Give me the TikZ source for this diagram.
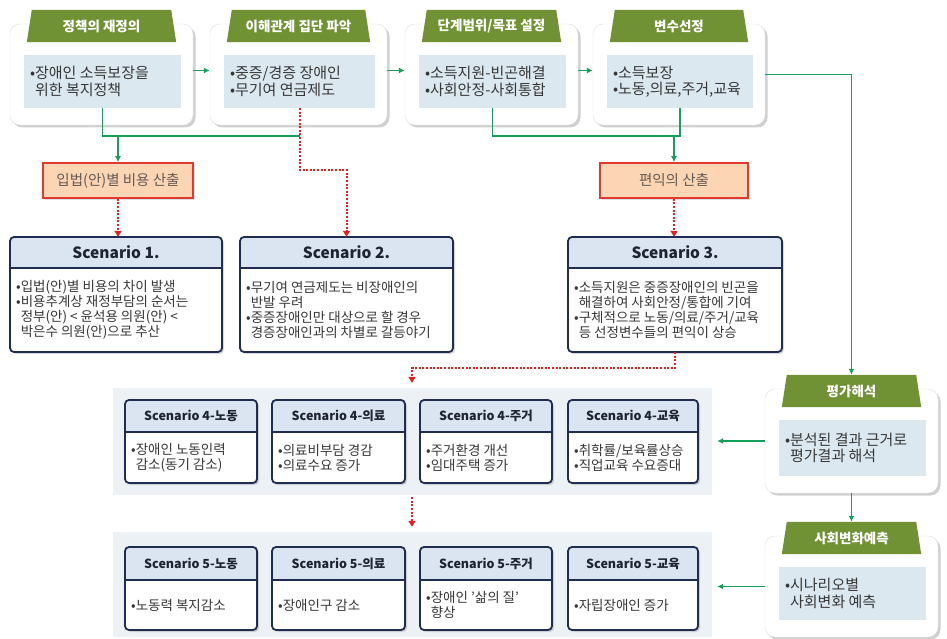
\documentclass[tikz,border=0pt]{standalone}
\usepackage{fontspec}
\setmainfont{Noto Sans CJK KR}
\usetikzlibrary{shadows,fit,calc,arrows.meta}
\definecolor{hdrgreen}{RGB}{112,146,52}
\definecolor{innerblue}{RGB}{219,232,240}
\definecolor{bodygray}{RGB}{55,55,55}
\definecolor{redfill}{RGB}{252,213,180}
\definecolor{redline}{RGB}{222,60,50}
\definecolor{redtext}{RGB}{100,90,85}
\definecolor{navy}{RGB}{31,45,80}
\definecolor{schdrcol}{RGB}{219,229,241}
\definecolor{titlecol}{RGB}{30,35,50}
\definecolor{lgreen}{RGB}{20,160,90}
\definecolor{lred}{RGB}{230,30,30}
\definecolor{panelcol}{RGB}{236,241,246}
\tikzset{
 outerbox/.style={fill=white, draw=black!12, rounded corners=10pt, inner sep=0pt,
   drop shadow={shadow xshift=2.5pt, shadow yshift=-2.5pt, opacity=0.3, fill=black!60}},
 innerbox/.style={fill=innerblue, inner sep=0pt},
 hdrtext/.style={text=white, inner sep=0pt, font=\bfseries\fontsize{13.5}{15}\selectfont},
 pbody/.style={align=left, text=bodygray, inner sep=0pt, font=\fontsize{15}{16.5}\selectfont},
 redbox/.style={fill=redfill, draw=redline, line width=1.6pt, minimum height=35pt, inner sep=0pt,
   text=redtext, font=\fontsize{14.5}{16}\selectfont,
   drop shadow={shadow xshift=2pt, shadow yshift=-2pt, opacity=0.25}},
 scshape/.style={fill=white, inner sep=0pt, rounded corners=4pt,
   drop shadow={shadow xshift=2pt, shadow yshift=-2pt, opacity=0.3}},
 scline/.style={draw=navy, line width=1.8pt},
 sctitle/.style={text=titlecol, font=\bfseries, inner sep=0pt},
 scbody/.style={align=left, text=bodygray, inner sep=0pt, font=\fontsize{13.5}{15}\selectfont},
 gline/.style={draw=lgreen, line width=1.8pt},
 garrow/.style={gline, -{Latex[length=6pt,width=6pt]}},
 rline/.style={draw=lred, line width=2pt, dash pattern=on 2pt off 1.6pt},
 rarrow/.style={rline, -{Triangle[length=6pt,width=7pt]}},
 panel/.style={fill=panelcol, inner sep=0pt},
}
% #1 name, #2 x1, #3 x2, #4 header top y, #5 outer bottom y, #6 title, #7 body
\newcommand\PanelBox[7]{%
 \pgfmathsetmacro\pbA{#2+14}\pgfmathsetmacro\pbB{#3-12}%
 \pgfmathsetmacro\pbC{#4+14}\pgfmathsetmacro\pbD{#4+45}%
 \pgfmathsetmacro\pbE{#5-17}\pgfmathsetmacro\pbF{#4+32}%
 \pgfmathsetmacro\pbG{#2+17}\pgfmathsetmacro\pbH{#3-17}%
 \node[fit={(#2,\pbC) (#3,#5)}, outerbox] (#1) {};
 \node[fit={(\pbA,\pbD) (\pbB,\pbE)}, innerbox] (#1i) {};
 \node[fit={(\pbG,#4) (\pbH,\pbF)}, inner sep=0pt] (#1h) {};
 \fill[hdrgreen] (#1h.south west) -- ([xshift=5pt]#1h.north west) -- ([xshift=-5pt]#1h.north east) -- (#1h.south east) -- cycle;
 \node[hdrtext] (#1t) at (#1h.center) {#6};
 \node[pbody, anchor=west] (#1b) at ([xshift=6pt]#1i.west) {#7};
}
% #1 name, #2 x1, #3 y1, #4 x2, #5 y2, #6 header bottom y, #7 title, #8 body
\newcommand\ScBox[8]{%
 \node[fit={(#2,#3) (#4,#5)}, scshape] (#1) {};
 \begin{scope}
  \clip[rounded corners=4pt] (#2,#3) rectangle (#4,#5);
  \fill[schdrcol] (#2,#3) rectangle (#4,#6);
 \end{scope}
 \draw[scline, rounded corners=4pt] (#2,#3) rectangle (#4,#5);
 \draw[scline] (#2,#6) -- (#4,#6);
 \node[sctitle] (#1t) at ($(#2,#3)!0.5!(#4,#6)$) {#7};
 \node[scbody, anchor=west] (#1b) at ($(#2,#6)!0.5!(#2,#5)+(6,0)$) {#8};
}
\begin{document}
\begin{tikzpicture}[x=1pt,y=-1pt]
\fill[white] (0,0) rectangle (947,639);
\useasboundingbox (0,0) rectangle (947,639);

% top row
\PanelBox{b1}{10}{193}{10}{125}{정책의 재정의}{•장애인 소득보장을\\\hphantom{•}위한 복지정책}
\PanelBox{b2}{210}{387}{10}{125}{이해관계 집단 파악}{•중증/경증 장애인\\•무기여 연금제도}
\PanelBox{b3}{405}{578}{10}{125}{단계범위/목표 설정}{•소득지원-빈곤해결\\•사회안정-사회통합}
\PanelBox{b4}{593}{765}{10}{125}{변수선정}{•소득보장\\•노동,의료,주거,교육}

% right column
\PanelBox{r1}{765}{938}{375}{493}{평가해석}{•분석된 결과 근거로\\\hphantom{•}평가결과 해석}
\PanelBox{r2}{765}{938}{522}{637}{사회변화예측}{•시나리오별\\\hphantom{•}사회변화 예측}

% red boxes
\node[redbox, minimum width=150pt] (rb1) at (118,180.5) {입법(안)별 비용 산출};
\node[redbox, minimum width=148pt] (rb2) at (674,180.5) {편익의 산출};

% scenarios 1-3
\ScBox{s1}{10}{237}{222}{352}{268}{\fontsize{15.5}{18}\selectfont Scenario 1.}{•입법(안)별 비용의 차이 발생\\•비용추계상 재정부담의 순서는\\\hphantom{•}정부(안) < 윤석용 의원(안) <\\\hphantom{•}박은수 의원(안)으로 추산}
\ScBox{s2}{240}{237}{453}{352}{268}{\fontsize{15.5}{18}\selectfont Scenario 2.}{•무기여 연금제도는 비장애인의\\\hphantom{•}반발 우려\\•중증장애인만 대상으로 할 경우\\\hphantom{•}경증장애인과의 차별로 갈등야기}
\ScBox{s3}{568}{237}{782}{352}{268}{\fontsize{15.5}{18}\selectfont Scenario 3.}{•소득지원은 중증장애인의 빈곤을\\\hphantom{•}해결하여 사회안정/통합에 기여\\•구체적으로 노동/의료/주거/교육\\\hphantom{•}등 선정변수들의 편익이 상승}

% panels
\node[fit={(113,388) (712,495)}, panel] (p4) {};
\node[fit={(113,532) (712,637)}, panel] (p5) {};

% scenario 4
\ScBox{s4a}{125}{400}{257}{483}{432}{\fontsize{12.5}{15}\selectfont Scenario 4-노동}{•장애인 노동인력\\\hphantom{•}감소(동기 감소)}
\ScBox{s4b}{272}{400}{405}{483}{432}{\fontsize{12.5}{15}\selectfont Scenario 4-의료}{•의료비부담 경감\\•의료수요 증가}
\ScBox{s4c}{420}{400}{552}{483}{432}{\fontsize{12.5}{15}\selectfont Scenario 4-주거}{•주거환경 개선\\•임대주택 증가}
\ScBox{s4d}{568}{400}{698}{483}{432}{\fontsize{12.5}{15}\selectfont Scenario 4-교육}{•취학률/보육률상승\\•직업교육 수요증대}

% scenario 5
\ScBox{s5a}{125}{547}{257}{630}{580}{\fontsize{12.5}{15}\selectfont Scenario 5-노동}{•노동력 복지감소}
\ScBox{s5b}{272}{547}{405}{630}{580}{\fontsize{12.5}{15}\selectfont Scenario 5-의료}{•장애인구 감소}
\ScBox{s5c}{420}{547}{552}{630}{580}{\fontsize{12.5}{15}\selectfont Scenario 5-주거}{•장애인 '삶의 질'\\\hphantom{•}향상}
\ScBox{s5d}{568}{547}{698}{630}{580}{\fontsize{12.5}{15}\selectfont Scenario 5-교육}{•자립장애인 증가}

% connectors
\coordinate (jy) at (0,136);
\coordinate (yr2) at (0,170);
\coordinate (yr3) at (0,368);
\coordinate (xr) at (412,0);

\draw[garrow] ([yshift=4pt]b1.east) -- ([yshift=4pt]b2.west);
\draw[garrow] ([yshift=4pt]b2.east) -- ([yshift=4pt]b3.west);
\draw[garrow] ([yshift=4pt]b3.east) -- ([yshift=4pt]b4.west);

\draw[gline] (b1i.south) |- (b2i.south |- jy);
\draw[garrow] (rb1.north |- jy) -- (rb1.north);
\draw[rarrow] (b2i.south) -- (b2i.south |- yr2) -| (s2.north);
\draw[rarrow] (rb1.south) -- (rb1.south |- s1.north);

\draw[gline] (b3i.south) |- (b4i.south |- jy) -- (b4i.south);
\draw[garrow] (rb2.north |- jy) -- (rb2.north);
\draw[rarrow] (rb2.south) -- (rb2.south |- s3.north);

\draw[garrow] (b4.east) -| (r1h.north);
\draw[garrow] (r1.south) -- (r2h.north);
\draw[garrow, shorten >=19pt] (r1.west) -- (s4d.east |- r1.west);
\draw[garrow, shorten >=19pt] (r2.west) -- (s5d.east |- r2.west);

\draw[rarrow, shorten >=5pt] (s3.south) |- (xr |- yr3) -- (xr |- p4.north);
\draw[rarrow, shorten <=2pt, shorten >=5pt] (xr |- p4.south) -- (xr |- p5.north);
\end{tikzpicture}
\end{document}
